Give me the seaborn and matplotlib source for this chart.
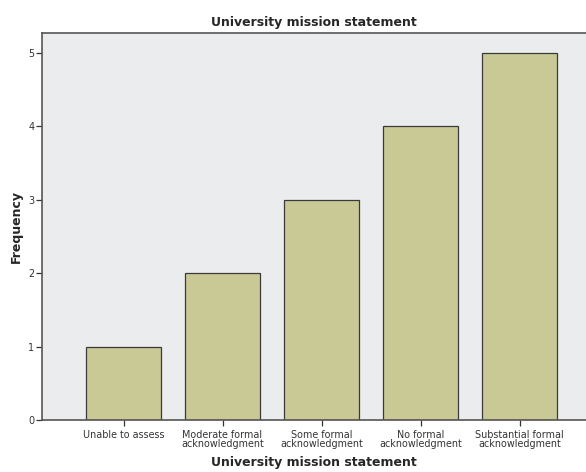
import matplotlib
matplotlib.use("Agg")
import matplotlib.pyplot as plt
import seaborn as sns
import pandas as pd

categories = ["Unable to assess", "Moderate formal\nacknowledgment", "Some formal\nacknowledgment",
              "No formal\nacknowledgment", "Substantial formal\nacknowledgment"]
frequency = [1, 2, 3, 4, 5]

df = pd.DataFrame({"category": categories, "frequency": frequency})

sns.set_style("white")
plt.rcParams['font.family'] = ['DejaVu Sans']

fig = plt.figure(figsize=(5.86, 4.72), dpi=100)
ax = fig.add_axes([0.0717, 0.110, 0.9283, 0.820])
ax.set_facecolor("#ebecee")

sns.barplot(data=df, x="category", y="frequency", color="#c9c995", saturation=1,
            width=0.76, edgecolor="#3a3a3a", linewidth=0.9, ax=ax)

ax.set_xlim(-0.823, 4.67)
ax.set_ylim(0, 5.27)
ax.set_yticks([0, 1, 2, 3, 4, 5])
ax.tick_params(axis="both", labelsize=6.9, colors="#333333", width=0.9, direction="out",
               bottom=True, left=True)
ax.tick_params(axis="y", length=4, pad=1.5)
ax.tick_params(axis="x", length=4, pad=3)
for lab in ax.get_xticklabels():
    lab.set_linespacing(0.95)

ax.set_xlabel("University mission statement", fontsize=9, fontweight="bold", labelpad=5)
ax.set_ylabel("Frequency", fontsize=9, fontweight="bold")
ax.yaxis.set_label_coords(-0.035, 0.5)
ax.set_title("University mission statement", fontsize=9, fontweight="bold", pad=5)

for s in ["left", "bottom", "top"]:
    ax.spines[s].set_visible(True)
    ax.spines[s].set_color("#555555")
    ax.spines[s].set_linewidth(1.2)
ax.spines["right"].set_visible(False)

fig.savefig("out.png", dpi=100)
